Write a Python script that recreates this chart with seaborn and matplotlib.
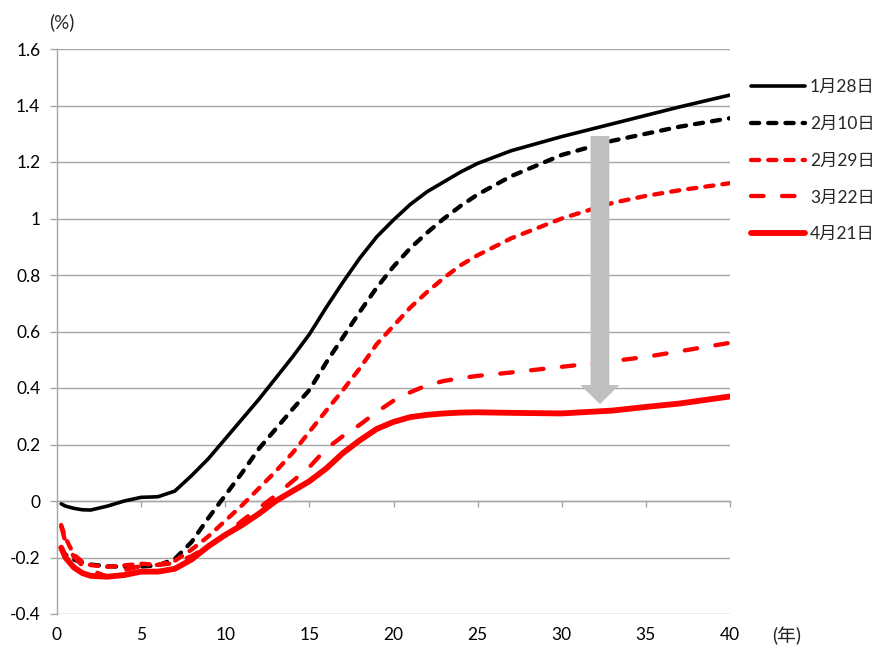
import matplotlib
matplotlib.use("Agg")
import matplotlib.pyplot as plt
import numpy as np
import pandas as pd
import seaborn as sns
from matplotlib.patches import FancyArrowPatch

# ---- data ----
years = [0.25, 0.5, 1, 1.5, 2, 3, 4, 5, 6, 7, 8, 9, 10, 11, 12, 13, 14, 15, 16,
         17, 18, 19, 20, 21, 22, 23, 24, 25, 27, 30, 33, 35, 37, 40]

jan28 = [-0.010, -0.018, -0.026, -0.031, -0.032, -0.018, 0.000, 0.013, 0.015, 0.035,
         0.090, 0.150, 0.220, 0.290, 0.360, 0.435, 0.510, 0.590, 0.685, 0.775,
         0.860, 0.935, 0.995, 1.050, 1.095, 1.130, 1.165, 1.195, 1.240, 1.290,
         1.335, 1.365, 1.395, 1.437]

feb10 = [-0.170, -0.190, -0.207, -0.218, -0.225, -0.231, -0.233, -0.232, -0.228, -0.205,
         -0.145, -0.060, 0.020, 0.100, 0.185, 0.255, 0.325, 0.393, 0.490, 0.580,
         0.670, 0.755, 0.830, 0.895, 0.950, 1.000, 1.045, 1.085, 1.150, 1.225,
         1.275, 1.300, 1.325, 1.355]

feb29 = [-0.085, -0.130, -0.190, -0.215, -0.227, -0.233, -0.228, -0.222, -0.226, -0.212,
         -0.172, -0.125, -0.070, -0.015, 0.045, 0.105, 0.170, 0.245, 0.320, 0.393,
         0.470, 0.555, 0.620, 0.685, 0.740, 0.790, 0.835, 0.870, 0.930, 1.000,
         1.055, 1.080, 1.100, 1.125]

mar22 = [-0.090, -0.145, -0.197, -0.228, -0.245, -0.268, -0.245, -0.230, -0.226, -0.220,
         -0.195, -0.160, -0.120, -0.070, -0.025, 0.020, 0.070, 0.120, 0.185, 0.230,
         0.270, 0.315, 0.355, 0.385, 0.410, 0.425, 0.435, 0.443, 0.455, 0.475,
         0.495, 0.510, 0.530, 0.560]

apr21 = [-0.165, -0.200, -0.235, -0.255, -0.265, -0.268, -0.262, -0.250, -0.250, -0.240,
         -0.207, -0.160, -0.120, -0.085, -0.045, 0.000, 0.035, 0.070, 0.115, 0.170,
         0.215, 0.255, 0.280, 0.297, 0.305, 0.310, 0.313, 0.314, 0.312, 0.310,
         0.320, 0.333, 0.345, 0.370]

series_labels = ["1月28日", "2月10日", "2月29日", "3月22日", "4月21日"]
series_values = [jan28, feb10, feb29, mar22, apr21]

xticks = [0, 5, 10, 15, 20, 25, 30, 35, 40]
yticks = [-0.4, -0.2, 0, 0.2, 0.4, 0.6, 0.8, 1, 1.2, 1.4, 1.6]

arrow_x = 32.27
arrow_top = 1.292
arrow_tip = 0.343

# ---- styles ----
styles = [
    dict(color="black", lw=2.6, ls="-"),
    dict(color="black", lw=3.1, ls=(0, (1.9, 2.1))),
    dict(color="red", lw=3.1, ls=(0, (1.9, 2.1))),
    dict(color="red", lw=3.1, ls=(0, (2.9, 4.3))),
    dict(color="red", lw=4.2, ls="-"),
]
grid_c = "#a6a6a6"
fs = 12.5
fs_leg = 12.5

sns.set_theme(style="white")
plt.rcParams["font.family"] = ["Lato", "Noto Sans CJK JP", "DejaVu Sans"]

fig = plt.figure(figsize=(8.78, 6.47), dpi=100)
ax = fig.add_axes([57 / 878, 33 / 647, 673 / 878, 565 / 647])

for lab, vals, st in zip(series_labels, series_values, styles):
    df = pd.DataFrame({"year": years, "rate": vals})
    sns.lineplot(data=df, x="year", y="rate", ax=ax, label=lab,
                 color=st["color"], linewidth=st["lw"], linestyle=st["ls"],
                 dash_capstyle="round", solid_capstyle="round",
                 solid_joinstyle="round", dash_joinstyle="round", zorder=3)

ax.set_xlim(0, 40)
ax.set_ylim(-0.4, 1.6)
ax.set_xlabel("")
ax.set_ylabel("")
ax.set_yticks(yticks)
ax.set_yticklabels([f"{v:g}" for v in yticks])
ax.set_xticks(xticks)

ax.yaxis.grid(True, color=grid_c, lw=1.0)
ax.xaxis.grid(False)
ax.set_axisbelow(True)

for s in ["top", "right"]:
    ax.spines[s].set_visible(False)
ax.spines["left"].set_color(grid_c)
ax.spines["left"].set_linewidth(1.0)
ax.spines["bottom"].set_position(("data", 0))
ax.spines["bottom"].set_color(grid_c)
ax.spines["bottom"].set_linewidth(1.0)

ax.tick_params(axis="y", left=True, direction="out", length=5, width=1.0,
               color=grid_c, pad=7, labelsize=fs, labelcolor="black")
ax.tick_params(axis="x", bottom=True, direction="out", length=4, width=1.0,
               color=grid_c, labelbottom=False)

secx = ax.secondary_xaxis("bottom")
secx.set_xticks(xticks)
secx.tick_params(length=0, pad=9, labelsize=fs, labelcolor="black")
secx.spines["bottom"].set_visible(False)

# grey arrow
arr = FancyArrowPatch((arrow_x, arrow_top), (arrow_x, arrow_tip),
                      arrowstyle="simple,head_length=13.7,head_width=27.9,tail_width=13.5",
                      mutation_scale=1, color="#bfbfbf", lw=0,
                      shrinkA=0, shrinkB=0, zorder=5)
ax.add_patch(arr)

leg = ax.legend(loc="upper left", bbox_to_anchor=(751 / 878, 1 - 79 / 647),
                bbox_transform=fig.transFigure, frameon=False, handlelength=3.1,
                handletextpad=0.3, labelspacing=1.2, borderpad=0,
                borderaxespad=0, fontsize=fs_leg)

fig.text(62 / 878, 1 - 22 / 647, "(%)", ha="center", va="center", fontsize=13.5)
fig.text(787 / 878, 1 - 636 / 647, "(年)", ha="center", va="center", fontsize=13.5)

fig.savefig("out.png", dpi=100)
